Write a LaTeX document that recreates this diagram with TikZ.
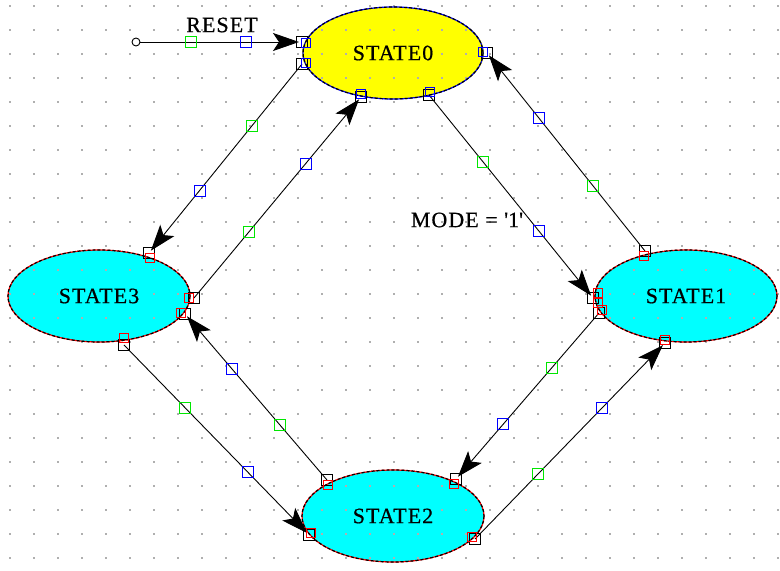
\documentclass[tikz,border=0pt]{standalone}
\usepackage{fontspec}
\setmainfont{Liberation Serif}
\usetikzlibrary{arrows.meta,shapes.geometric}
\definecolor{dotc}{RGB}{175,175,175}
\definecolor{cyanf}{RGB}{0,255,255}
\definecolor{yellowf}{RGB}{255,255,0}
\definecolor{gmark}{RGB}{0,230,0}
\definecolor{bmark}{RGB}{0,0,255}
\definecolor{rport}{RGB}{255,0,0}
\begin{document}
\begin{tikzpicture}[x=1bp,y=-1bp,
  statefill/.style={ellipse, minimum width=182bp, minimum height=92bp, inner sep=0pt, draw=none},
  lbl/.style={inner sep=1bp, font=\fontsize{22}{22}\selectfont\addfontfeature{LetterSpace=5,FakeBold=0.6}},
  conn/.style={draw=black, line width=0.9bp, -{Stealth[length=26bp,width=18bp,inset=6bp]}, shorten >=3bp},
  gsq/.style={draw=gmark, line width=1bp, minimum size=11bp, inner sep=0pt, fill=none},
  bsq/.style={draw=bmark, line width=1bp, minimum size=11bp, inner sep=0pt, fill=none},
  ksq/.style={draw=black, line width=1bp, minimum size=11bp, inner sep=0pt},
  rsq/.style={draw=rport, line width=1bp, minimum size=9bp, inner sep=0pt},
  usq/.style={draw=bmark, line width=1bp, minimum size=9bp, inner sep=0pt}
]
\useasboundingbox (0,0) rectangle (780,571);
\fill[white] (0,0) rectangle (780,571);
% state fills
\node[statefill, fill=yellowf] (s0) at (393,53) {};
\node[statefill, fill=cyanf] (s3) at (99,296) {};
\node[statefill, fill=cyanf] (s1) at (686,296) {};
\node[statefill, fill=cyanf] (s2) at (393,516) {};
% grid dots
\foreach \i in {0,...,32} {
  \foreach \j in {0,...,23} {
    \fill[dotc] ({10+24*\i-1},{6+24*\j-1}) rectangle ++(2,2);
  }
}
% state borders
\draw[bmark, line width=1.2bp] (s0.center) ellipse [x radius=90, y radius=46];
\draw[black, line width=1.2bp, dash pattern=on 3bp off 2bp] (s0.center) ellipse [x radius=90, y radius=46];
\foreach \s in {s1,s2,s3} {
  \draw[rport, line width=1.2bp] (\s.center) ellipse [x radius=91, y radius=46];
  \draw[black, line width=1.2bp, dash pattern=on 3bp off 2bp] (\s.center) ellipse [x radius=91, y radius=46];
}
% labels
\node[lbl, fill=yellowf] (t0) at (s0) {STATE0};
\node[lbl, fill=cyanf] (t3) at (s3) {STATE3};
\node[lbl, fill=cyanf] (t1) at (s1) {STATE1};
\node[lbl, fill=cyanf] (t2) at (s2) {STATE2};
% endpoints
\coordinate (r0) at (302,42);
\coordinate (c03s) at (302,64);  \coordinate (c03e) at (149,253);
\coordinate (c30s) at (194,298); \coordinate (c30e) at (361,97);
\coordinate (c01s) at (429,95);  \coordinate (c01e) at (593,298);
\coordinate (c10s) at (645,251); \coordinate (c10e) at (487,53);
\coordinate (c12s) at (599,313); \coordinate (c12e) at (456,479);
\coordinate (c21s) at (475,539); \coordinate (c21e) at (665,343);
\coordinate (c32s) at (124,345); \coordinate (c32e) at (309,535);
\coordinate (c23s) at (327,480); \coordinate (c23e) at (185,314);
% reset source
\node[circle, draw=black, line width=0.9bp, fill=white, minimum size=8bp, inner sep=0pt] (rs) at (136,42) {};
% connectors
\draw[conn] (rs) -- (r0);
\draw[conn] (c03s) -- (c03e);
\draw[conn] (c30s) -- (c30e);
\draw[conn] (c01s) -- (c01e);
\draw[conn] (c10s) -- (c10e);
\draw[conn] (c12s) -- (c12e);
\draw[conn] (c21s) -- (c21e);
\draw[conn] (c32s) -- (c32e);
\draw[conn] (c23s) -- (c23e);
% connector markers (green near source, blue near target)
\node[gsq] (m1) at (191,42) {};  \node[bsq] (m2) at (246,42) {};
\node[gsq] (m3) at (252,126) {}; \node[bsq] (m4) at (200,191) {};
\node[gsq] (m5) at (249,232) {}; \node[bsq] (m6) at (306,164) {};
\node[gsq] (m7) at (483,162) {}; \node[bsq] (m8) at (539,231) {};
\node[gsq] (m9) at (593,186) {}; \node[bsq] (m10) at (539,118) {};
\node[gsq] (m11) at (552,368) {}; \node[bsq] (m12) at (503,424) {};
\node[gsq] (m13) at (538,474) {}; \node[bsq] (m14) at (602,408) {};
\node[gsq] (m15) at (185,408) {}; \node[bsq] (m16) at (248,472) {};
\node[gsq] (m17) at (280,425) {}; \node[bsq] (m18) at (232,369) {};
% port squares
\foreach \p in {r0,c03s,c03e,c30s,c30e,c01s,c01e,c10s,c10e,c12s,c12e,c21s,c21e,c32s,c32e,c23s,c23e} {
  \node[ksq] at (\p) {};
}
\foreach \x/\y in {306/43,306/63,361/94,430/92,483/52} {
  \node[usq] at (\x,\y) {};
}
\foreach \x/\y in {150/258,189/298,181/313,124/338,644/256,598/293,598/303,602/310,665/340,328/485,311/533,454/484,472/537} {
  \node[rsq] at (\x,\y) {};
}
% transition labels
\node[lbl] (lreset) at (222,25) {RESET};
\node[lbl] (lmode) at (467,220) {MODE = \textquotesingle 1\textquotesingle};
\end{tikzpicture}
\end{document}
